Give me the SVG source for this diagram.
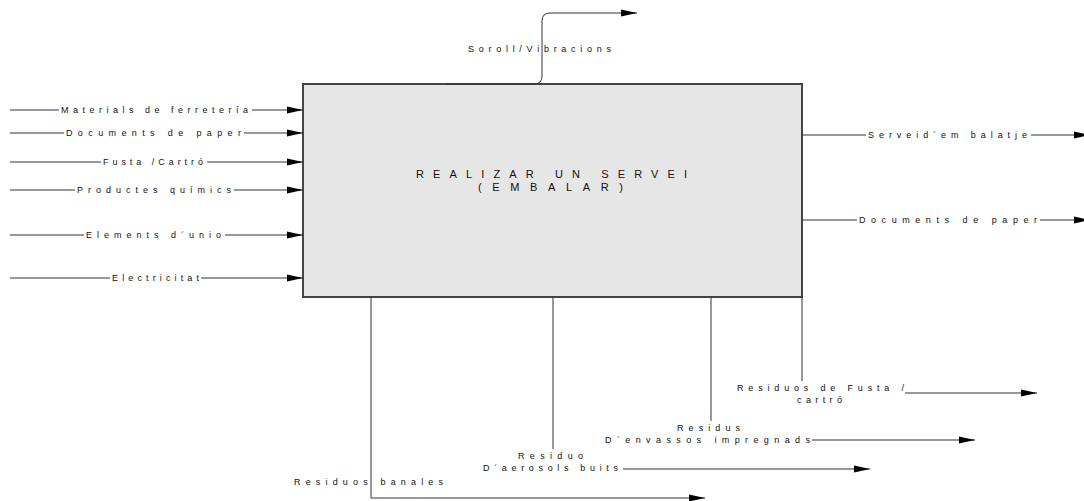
<svg xmlns="http://www.w3.org/2000/svg" width="1084" height="501" viewBox="0 0 1084 501">
<style>
.ln{fill:none;stroke:#333;stroke-width:1}
.lb{font-family:"Liberation Sans",Arial,sans-serif;font-size:9px;fill:#111}
.ct{font-family:"Liberation Sans",Arial,sans-serif;font-size:11px;fill:#111}
</style>
<defs>
<marker id="ar" markerWidth="16" markerHeight="8" refX="16" refY="4" orient="auto" markerUnits="userSpaceOnUse">
<path d="M0,0.5 L16,4 L0,7.5 Z" fill="#000"/>
</marker>
</defs>
<rect width="1084" height="501" fill="#fff"/>
<g id="process">
<rect x="303" y="84" width="499" height="213" fill="#e6e6e6" stroke="#444" stroke-width="2"/>
<text class="ct" x="416" y="178" textLength="271" lengthAdjust="spacing">REALIZAR UN SERVEI</text>
<text class="ct" x="478" y="191" textLength="145" lengthAdjust="spacing">(EMBALAR)</text>
</g>
<g id="connectors">
<path class="ln" d="M10,110 H59"/><path class="ln" d="M252,110 H303" marker-end="url(#ar)"/>
<path class="ln" d="M10,133 H64"/><path class="ln" d="M244,133 H303" marker-end="url(#ar)"/>
<path class="ln" d="M10,162 H101"/><path class="ln" d="M207,162 H303" marker-end="url(#ar)"/>
<path class="ln" d="M10,190 H75"/><path class="ln" d="M234,190 H303" marker-end="url(#ar)"/>
<path class="ln" d="M10,235 H84"/><path class="ln" d="M225,235 H303" marker-end="url(#ar)"/>
<path class="ln" d="M10,278 H110"/><path class="ln" d="M201,278 H303" marker-end="url(#ar)"/>
<path class="ln" d="M446,84 H534 Q542,84 542,76 V21 Q542,13 550,13 H637" marker-end="url(#ar)"/>
<path class="ln" d="M802,135 H866"/><path class="ln" d="M1031,135 H1090" marker-end="url(#ar)"/>
<path class="ln" d="M802,220 H857"/><path class="ln" d="M1040,220 H1090" marker-end="url(#ar)"/>
<path class="ln" d="M371,297 V498 H705" marker-end="url(#ar)"/>
<path class="ln" d="M553,297 V449"/>
<path class="ln" d="M623,469 H870" marker-end="url(#ar)"/>
<path class="ln" d="M711,297 V421"/>
<path class="ln" d="M812,440 H975" marker-end="url(#ar)"/>
<path class="ln" d="M802,297 V381"/>
<path class="ln" d="M905,393 H1037" marker-end="url(#ar)"/>
</g>
<g id="labels">
<text class="lb" x="61" y="113" textLength="187" lengthAdjust="spacing">Materials de ferretería</text>
<text class="lb" x="66" y="136" textLength="175" lengthAdjust="spacing">Documents de paper</text>
<text class="lb" x="103" y="165" textLength="100" lengthAdjust="spacing">Fusta /Cartró</text>
<text class="lb" x="77" y="193" textLength="154" lengthAdjust="spacing">Productes químics</text>
<text class="lb" x="86" y="238" textLength="135" lengthAdjust="spacing">Elements d´unio</text>
<text class="lb" x="112" y="281" textLength="87" lengthAdjust="spacing">Electricitat</text>
<text class="lb" x="468" y="52" textLength="143" lengthAdjust="spacing">Soroll/Vibracions</text>
<text class="lb" x="868" y="138" textLength="159" lengthAdjust="spacing">Serveid´em balatje</text>
<text class="lb" x="859" y="223" textLength="178" lengthAdjust="spacing">Documents de paper</text>
<text class="lb" x="294" y="485" textLength="149" lengthAdjust="spacing">Residuos banales</text>
<text class="lb" x="518" y="459" textLength="65" lengthAdjust="spacing">Residuo</text>
<text class="lb" x="483" y="471" textLength="135" lengthAdjust="spacing">D´aerosols buits</text>
<text class="lb" x="677" y="431" textLength="63" lengthAdjust="spacing">Residus</text>
<text class="lb" x="605" y="443" textLength="205" lengthAdjust="spacing">D´envassos impregnads</text>
<text class="lb" x="737" y="391" textLength="167" lengthAdjust="spacing">Residuos de Fusta /</text>
<text class="lb" x="797" y="403" textLength="45" lengthAdjust="spacing">cartró</text>
</g>
</svg>
